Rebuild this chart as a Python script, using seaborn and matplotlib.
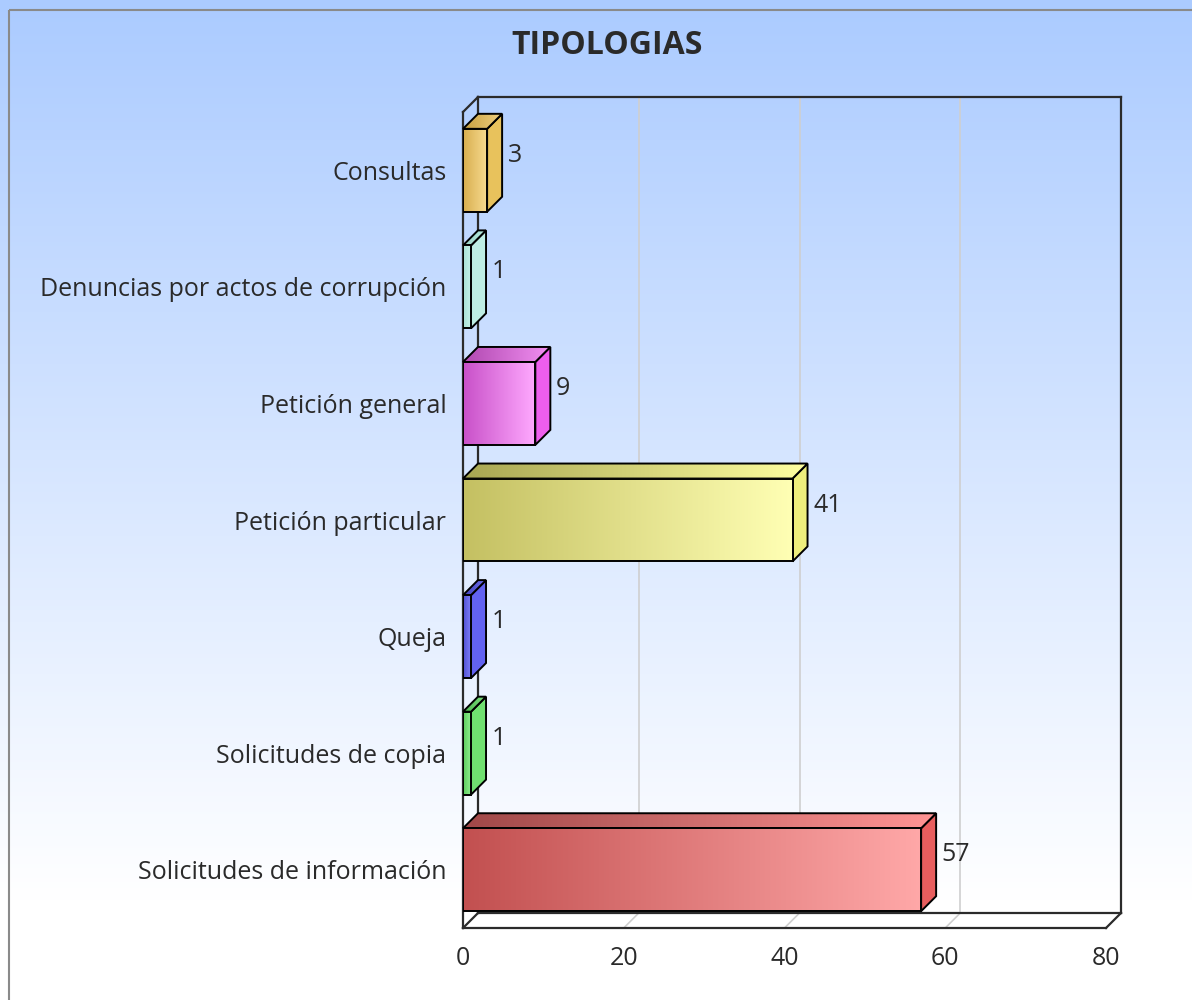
import numpy as np
import pandas as pd
import matplotlib
matplotlib.use('Agg')
import matplotlib.pyplot as plt
from matplotlib.patches import Polygon, Rectangle
from matplotlib.colors import LinearSegmentedColormap, to_rgb
import seaborn as sns

# --- data ---
categories = ['Consultas', 'Denuncias por actos de corrupción', 'Petición general',
              'Petición particular', 'Queja', 'Solicitudes de copia',
              'Solicitudes de información']
values = [3, 1, 9, 41, 1, 1, 57]
x_ticks = [0, 20, 40, 60, 80]

# per-bar colours: front gradient (dark -> light), top gradient, side face
front_dark = ['#D8AE4E', '#A8E0D4', '#C850C8', '#C4C062', '#5050D0', '#5CCC5C', '#C25050']
front_light = ['#F8DC92', '#C8F4EC', '#FFAAFF', '#FFFFB4', '#8484FF', '#94F294', '#FFA8A8']
top_dark = ['#C8A040', '#98D0C4', '#B048B0', '#A8A652', '#4040B8', '#4CB44C', '#A04848']
top_light = ['#F0D080', '#B8ECE0', '#F290F2', '#FFFFA0', '#7070F0', '#80E080', '#FF9494']
side_col = ['#E8C25C', '#BEEEE4', '#EE5EEE', '#EEEE7C', '#6262F0', '#70E070', '#E85E5E']

OFF = 15  # pixel depth of the 3d effect
W, H = 1192, 1000
FS = 18

sns.set_style('white')
plt.rcParams['font.family'] = ['Open Sans', 'DejaVu Sans']
TXT = '#2a2a2a'

fig = plt.figure(figsize=(W / 100, H / 100), dpi=100)

# background gradient + frame
bg = fig.add_axes([0, 0, 1, 1], zorder=-10)
yy = np.linspace(0, 1, 500)[:, None]
top_c = np.array([171, 203, 255]) / 255
grad = np.clip(yy / 0.9, 0, 1)
img = top_c[None, None, :] * (1 - grad[..., None]) + grad[..., None]
img = np.repeat(img, 2, axis=1)
bg.imshow(img, extent=[0, W, H, 0], aspect='auto')
bg.add_patch(Rectangle((8.5, 9.5), W + 20, H + 20, fill=False, ec='#8a8a8a', lw=1.5))
bg.set_xlim(0, W)
bg.set_ylim(H, 0)
bg.axis('off')

ax = fig.add_axes([463 / W, 72 / H, 643 / W, 816 / H])
ax.patch.set_alpha(0)

df = pd.DataFrame({'cat': categories, 'val': values})
sns.barplot(data=df, x='val', y='cat', hue='cat', palette=side_col, orient='h',
            width=83 / 116.67, legend=False, ax=ax, zorder=5)
ax.set_xlim(0, 80)
ax.set_ylim(6.5, -0.5)

def back(x, y):
    p = ax.transData.transform((x, y)) + np.array([OFF, OFF])
    return tuple(ax.transData.inverted().transform(p))

lk = dict(color='#2b2b2b', lw=1.6, zorder=2, clip_on=False, solid_capstyle='projecting')
y0, y1 = -0.5, 6.5
# back wall gridlines
for t in x_ticks[1:-1]:
    bx0, by0 = back(t, y0)
    bx1, by1 = back(t, y1)
    ax.plot([bx0, bx1], [by0, by1], color='#cfcfcf', lw=1.2, zorder=1, clip_on=False)
# floor
f = [(0, y1), (80, y1), back(80, y1), back(0, y1)]
ax.add_patch(Polygon(f, closed=True, fc='white', ec='none', zorder=1, clip_on=False))
for t in x_ticks[1:-1]:
    bx, by = back(t, y1)
    ax.plot([t, bx], [y1, by], color='#cfcfcf', lw=1.2, zorder=1.5, clip_on=False)
# frame lines
segs = [[(0, y0), (0, y1)], [back(0, y0), back(0, y1)], [(0, y0), back(0, y0)],
        [back(0, y0), back(80, y0)], [back(80, y0), back(80, y1)],
        [(0, y1), (80, y1)], [(80, y1), back(80, y1)], [back(0, y1), back(80, y1)],
        [(0, y1), back(0, y1)]]
for s in segs:
    ax.plot([s[0][0], s[1][0]], [s[0][1], s[1][1]], **lk)

def cmap_of(c1, c2):
    return LinearSegmentedColormap.from_list('g', [to_rgb(c1), to_rgb(c2)])

hgrad = np.linspace(0, 1, 256)[None, :]
for i, bar in enumerate(ax.patches[:len(values)]):
    x0, yb = bar.get_x(), bar.get_y()
    w, h = bar.get_width(), bar.get_height()
    x1, yt = x0 + w, yb  # yb is the upper edge (inverted axis)
    ybot = yb + h
    ec = dict(ec='black', lw=1.4)
    # side face
    side = Polygon([(x1, yt), back(x1, yt), back(x1, ybot), (x1, ybot)], closed=True,
                   fc=side_col[i], zorder=4, clip_on=False, **ec)
    ax.add_patch(side)
    # top face with gradient
    topp = [(x0, yt), (x1, yt), back(x1, yt), back(x0, yt)]
    tpoly = Polygon(topp, closed=True, fc='none', zorder=6, clip_on=False, **ec)
    ax.add_patch(tpoly)
    bx1, byt = back(x1, yt)
    im = ax.imshow(hgrad, cmap=cmap_of(top_dark[i], top_light[i]), aspect='auto',
                   extent=[x0, bx1, yt, byt], zorder=5.5, interpolation='bilinear')
    im.set_clip_path(tpoly)
    im.set_clip_on(True)
    # front face gradient
    bar.set_facecolor('none')
    bar.set_edgecolor('black')
    bar.set_linewidth(1.4)
    bar.set_zorder(7)
    ax.imshow(hgrad, cmap=cmap_of(front_dark[i], front_light[i]), aspect='auto',
              extent=[x0, x1, ybot, yt], zorder=6.5, interpolation='bilinear')
    # value label
    lx, ly = back(x1, yb + h / 2)
    ax.annotate(str(values[i]), (lx, ly), xytext=(4, 0), textcoords='offset points',
                ha='left', va='center', fontsize=FS, color=TXT, zorder=10,
                annotation_clip=False)

ax.set_xlim(0, 80)
ax.set_ylim(6.5, -0.5)
ax.set_xticks(x_ticks)
ax.set_xticklabels([str(t) for t in x_ticks])
ax.tick_params(axis='x', length=0, pad=13, labelsize=FS, labelcolor=TXT)
ax.tick_params(axis='y', length=0, pad=12, labelsize=FS, labelcolor=TXT)
ax.set_xlabel('')
ax.set_ylabel('')
sns.despine(ax=ax, left=True, bottom=True)
ax.grid(False)

fig.text(607 / W, 1 - 45 / H, 'TIPOLOGIAS', ha='center', va='center',
         fontsize=23, fontweight='bold', color=TXT)

fig.savefig('out.png', dpi=100)
